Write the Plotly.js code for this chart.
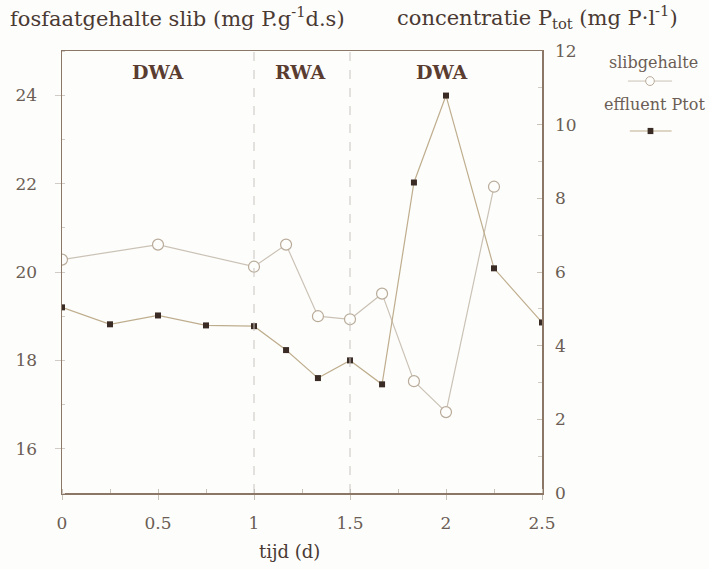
<!DOCTYPE html>
<html>
<head>
<meta charset="utf-8">
<script src="https://cdn.plot.ly/plotly-3.0.1.min.js"></script>
<style>
  html, body { margin: 0; padding: 0; background: #fdfdfb; }
  #chart { width: 709px; height: 569px; }
</style>
</head>
<body>
<div id="chart"></div>
<script>
// Phosphate content of the sludge (left axis) and effluent total P (right axis)
const slibTijd = [0, 0.5, 1, 1.167, 1.333, 1.5, 1.667, 1.833, 2, 2.25];
const slibGehalte = [20.28, 20.62, 20.12, 20.62, 19.0, 18.93, 19.51, 17.53, 16.83, 21.93];

const effluentTijd = [0, 0.25, 0.5, 0.75, 1, 1.167, 1.333, 1.5, 1.667, 1.833, 2, 2.25, 2.5];
const effluentPtot = [5.04, 4.58, 4.82, 4.55, 4.53, 3.88, 3.12, 3.6, 2.95, 8.43, 10.79, 6.1, 4.63];

const faseGrenzen = [1, 1.5];
const faseLabels = ['DWA', 'RWA', 'DWA'];
const faseLabelX = [0.5, 1.24, 1.98];

const xTicks = [0, 0.5, 1, 1.5, 2, 2.5];
const yLinksTicks = [16, 18, 20, 22, 24];
const yRechtsTicks = [0, 2, 4, 6, 8, 10, 12];

const serif = '"DejaVu Serif", "Liberation Serif", serif';
const axisColor = '#8c7666';
const tickFont = { family: serif, size: 17, color: '#6b5d55' };
const textColor = '#4a3a33';

const traces = [
  {
    x: slibTijd, y: slibGehalte, name: 'slibgehalte',
    type: 'scatter', mode: 'lines+markers', yaxis: 'y',
    line: { color: '#cbc2b6', width: 1.2 },
    marker: { symbol: 'circle', size: 11, color: '#fdfdfb', line: { color: '#b9ab9a', width: 1.2 } },
    showlegend: false
  },
  {
    x: effluentTijd, y: effluentPtot, name: 'effluent Ptot',
    type: 'scatter', mode: 'lines+markers', yaxis: 'y2',
    line: { color: '#bfae8e', width: 1.2 },
    marker: { symbol: 'square', size: 6, color: '#3a2b24' },
    showlegend: false
  }
];

const shapes = faseGrenzen.map(v => ({
  type: 'line', xref: 'x', yref: 'paper', x0: v, x1: v, y0: 0, y1: 1,
  line: { color: '#c9c4bf', width: 1, dash: 'dash' }
}));

// legend samples on the right
shapes.push(
  { type: 'line', xref: 'paper', yref: 'paper', x0: 1.179, x1: 1.271, y0: 0.932, y1: 0.932,
    line: { color: '#cbc2b6', width: 1 } },
  { type: 'circle', xref: 'paper', yref: 'paper', x0: 1.216, x1: 1.234, y0: 0.922, y1: 0.942,
    fillcolor: '#fdfdfb', line: { color: '#b9ab9a', width: 1 } },
  { type: 'line', xref: 'paper', yref: 'paper', x0: 1.183, x1: 1.27, y0: 0.819, y1: 0.819,
    line: { color: '#bfae8e', width: 1 } },
  { type: 'rect', xref: 'paper', yref: 'paper', x0: 1.22, x1: 1.232, y0: 0.812, y1: 0.826,
    fillcolor: '#3a2b24', line: { width: 0 } }
);

const annotations = faseLabels.map((t, i) => ({
  x: faseLabelX[i], y: 0.952, xref: 'x', yref: 'paper', yanchor: 'middle',
  text: '<b>' + t + '</b>', showarrow: false,
  font: { family: serif, size: 19, color: '#5a3c30' }
}));

annotations.push(
  { xref: 'paper', yref: 'paper', x: -0.113, y: 1.077, xanchor: 'left', yanchor: 'middle',
    text: 'fosfaatgehalte slib (mg P.g<sup>-1</sup>d.s)', showarrow: false,
    font: { family: serif, size: 21, color: textColor } },
  { xref: 'paper', yref: 'paper', x: 0.694, y: 1.077, xanchor: 'left', yanchor: 'middle',
    text: 'concentratie P<sub>tot</sub> (mg P·l<sup>-1</sup>)', showarrow: false,
    font: { family: serif, size: 21, color: textColor } },
  { xref: 'paper', yref: 'paper', x: 1.232, y: 0.975, xanchor: 'center', yanchor: 'middle',
    text: 'slibgehalte', showarrow: false,
    font: { family: serif, size: 16, color: '#6b5d55' } },
  { xref: 'paper', yref: 'paper', x: 1.234, y: 0.878, xanchor: 'center', yanchor: 'middle',
    text: 'effluent Ptot', showarrow: false,
    font: { family: serif, size: 16, color: '#6b5d55' } },
  { xref: 'paper', yref: 'paper', x: 0.473, y: -0.132, xanchor: 'center', yanchor: 'middle',
    text: 'tijd (d)', showarrow: false,
    font: { family: serif, size: 18, color: textColor } }
);

const layout = {
  width: 709, height: 569,
  paper_bgcolor: '#fdfdfb', plot_bgcolor: '#fdfdfb',
  margin: { l: 62, r: 167, t: 51, b: 76 },
  showlegend: false,
  xaxis: {
    range: [0, 2.5], tickvals: xTicks, ticktext: xTicks.map(String),
    showline: true, linecolor: axisColor, linewidth: 1.5, mirror: true,
    ticks: 'outside', ticklen: 5, tickcolor: '#c9c0b6', ticklabelstandoff: 9,
    minor: { dtick: 0.25, ticks: 'inside', ticklen: 4, tickcolor: '#c9c0b6' },
    showgrid: false, zeroline: false, tickfont: tickFont
  },
  yaxis: {
    range: [15, 25], tickvals: yLinksTicks, ticktext: yLinksTicks.map(String),
    showline: true, linecolor: axisColor, linewidth: 1.5,
    ticks: 'outside', ticklen: 6, tickcolor: '#d2cbc4', ticklabelstandoff: 14,
    minor: { dtick: 1, ticks: 'inside', ticklen: 3, tickcolor: '#d2cbc4' },
    showgrid: false, zeroline: false, tickfont: tickFont
  },
  yaxis2: {
    range: [0, 12], tickvals: yRechtsTicks, ticktext: yRechtsTicks.map(String),
    overlaying: 'y', side: 'right',
    showline: true, linecolor: axisColor, linewidth: 1.5,
    ticks: 'inside', ticklen: 5, tickcolor: '#c9c0b6', ticklabelstandoff: 8,
    minor: { dtick: 1, ticks: 'inside', ticklen: 4, tickcolor: '#d2cbc4' },
    showgrid: false, zeroline: false, tickfont: tickFont
  },
  shapes: shapes,
  annotations: annotations
};

Plotly.newPlot('chart', traces, layout, { displayModeBar: false, staticPlot: true });
</script>
</body>
</html>
